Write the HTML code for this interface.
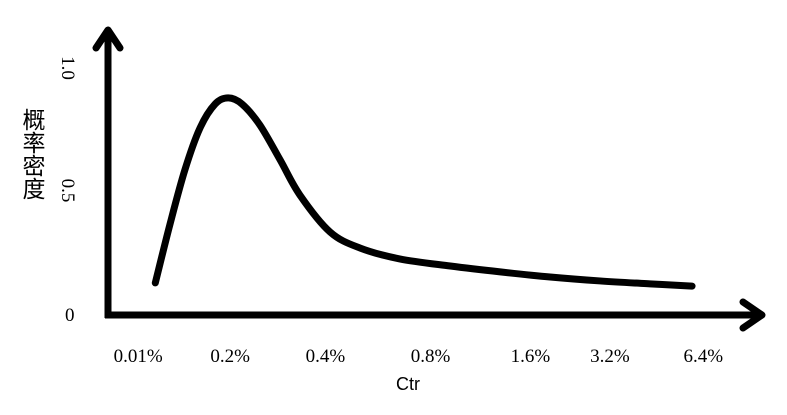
<!DOCTYPE html>
<html><head><meta charset="utf-8"><style>
body{margin:0;background:#fff;width:787px;height:410px;overflow:hidden}
svg text{font-family:"Liberation Serif","Noto Sans CJK SC",serif;fill:#000}
</style></head><body>
<svg width="787" height="410">
<g id="axes">
<line x1="108" y1="318" x2="108" y2="32" stroke="#000" stroke-width="7"/>
<polyline points="96,48 108,30 120,48" fill="none" stroke="#000" stroke-width="7" stroke-linecap="round" stroke-linejoin="round"/>
<line x1="105" y1="315" x2="760" y2="315" stroke="#000" stroke-width="7"/>
<polyline points="743,302 762,315 743,328" fill="none" stroke="#000" stroke-width="7" stroke-linecap="round" stroke-linejoin="round"/>
</g>
<text x="34" y="108" font-size="23" writing-mode="tb" style="font-family:'Noto Sans CJK SC',sans-serif">概率密度</text>
<text x="408" y="390" font-size="18" text-anchor="middle" style="font-family:'Liberation Sans',sans-serif">Ctr</text>
<g id="ticks"></g>
<path id="curve" fill="none" stroke="#000" stroke-width="7" stroke-linecap="round"/>
</svg>
<script>
const curveX=[0.072,0.094,0.117,0.140,0.163,0.183,0.204,0.231,0.262,0.292,0.338,0.384,0.444,0.521,0.597,0.673,0.749,0.825,0.889];
const curveY=[0.131,0.367,0.592,0.763,0.861,0.886,0.861,0.776,0.633,0.490,0.339,0.273,0.229,0.200,0.176,0.155,0.139,0.127,0.118];
const xTickLabels=["0.01%","0.2%","0.4%","0.8%","1.6%","3.2%","6.4%"];
const xTickPos=[0.046,0.186,0.331,0.491,0.643,0.764,0.906];
const yTickLabels=["0","0.5","1.0"];
const yTickVals=[0,0.5,1.0];
const xs=v=>108+v*657, ys=v=>315-v*245;
const ns="http://www.w3.org/2000/svg", tg=document.getElementById('ticks');
xTickLabels.forEach((t,i)=>{const e=document.createElementNS(ns,'text');
e.setAttribute('x',xs(xTickPos[i]));e.setAttribute('y',362);e.setAttribute('font-size','19');e.setAttribute('text-anchor','middle');e.textContent=t;


tg.appendChild(e);});
yTickLabels.forEach((t,i)=>{const e=document.createElementNS(ns,'text');const y=ys(yTickVals[i]);
if(yTickVals[i]===0){e.setAttribute('x',65);e.setAttribute('y',y+6);}
else{e.setAttribute('transform',`translate(62,${y-2}) rotate(90)`);e.setAttribute('text-anchor','middle');}
e.setAttribute('font-size','19');e.textContent=t;


tg.appendChild(e);});
const P=curveX.map((x,i)=>[xs(x),ys(curveY[i])]);
let d=`M${P[0][0]},${P[0][1]}`;
for(let i=0;i<P.length-1;i++){const p0=P[Math.max(0,i-1)],p1=P[i],p2=P[i+1],p3=P[Math.min(P.length-1,i+2)];
d+=` C${p1[0]+(p2[0]-p0[0])/6},${p1[1]+(p2[1]-p0[1])/6} ${p2[0]-(p3[0]-p1[0])/6},${p2[1]-(p3[1]-p1[1])/6} ${p2[0]},${p2[1]}`;}
document.getElementById('curve').setAttribute('d',d);
</script>
</body></html>
